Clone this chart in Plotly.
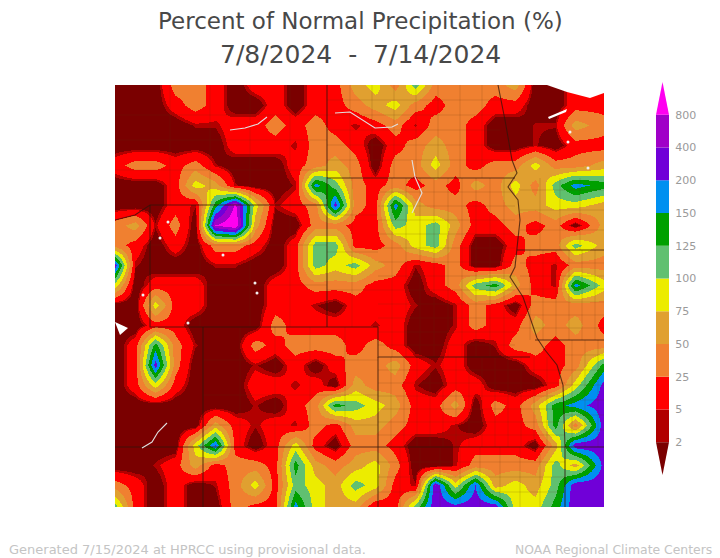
import numpy as np
import plotly.graph_objects as go

# percent of normal, one row per y position
grid_x = [115,135,155,175,195,215,235,255,275,295,315,335,355,375,395,415,435,455,475,495,515,535,555,575,604]
grid_y = [85,105,125,145,165,185,205,225,245,265,285,305,325,345,365,385,405,425,445,465,485,507]
row_085 = [1,1,1,37,37,15,1,15,15,1,15,15,62,87,37,112,37,37,37,37,62,1,1,15,15]
row_105 = [1,1,1,15,37,15,1,1,15,1,15,15,37,62,87,37,15,37,37,15,15,1,1,15,15]
row_125 = [1,1,1,1,3,3,15,15,37,15,37,15,3,15,37,3,37,37,15,1,1,3,3,62,37]
row_145 = [1,1,1,1,1,1,15,15,15,3,37,37,15,1,15,37,62,37,15,1,1,3,1,15,15]
row_165 = [15,37,37,15,37,3,1,1,1,15,37,62,37,1,37,37,87,37,15,37,37,87,37,37,62]
row_185 = [1,1,1,15,87,62,3,1,1,3,175,112,37,15,37,15,37,15,62,37,87,37,112,175,137]
row_205 = [1,1,1,15,3,137,1000,87,3,15,37,300,37,15,175,62,37,37,15,37,62,62,87,87,62]
row_225 = [37,62,3,37,1,800,1600,62,1,1,37,37,15,15,112,87,112,62,15,15,37,15,37,1,62]
row_245 = [37,15,1,15,1,37,37,15,1,15,112,112,15,15,37,87,112,37,1,1,15,37,37,112,62]
row_265 = [300,3,1,1,1,3,3,1,1,15,112,87,112,62,37,3,15,37,1,1,37,15,3,37,37]
row_285 = [87,1,15,15,15,1,1,1,15,15,37,37,37,15,15,1,15,37,112,137,62,15,3,175,87]
row_305 = [1,1,87,15,15,1,1,1,15,15,3,1,15,15,15,3,1,3,37,15,1,37,37,37,37]
row_325 = [1,1,15,15,1,1,1,1,37,15,15,15,15,3,15,1,1,3,37,15,15,62,37,62,15]
row_345 = [1,15,137,37,3,1,1,37,15,37,37,37,15,37,15,1,1,15,1,3,37,37,15,37,37]
row_365 = [1,15,300,37,1,1,1,3,1,15,1,15,37,37,62,15,3,15,1,1,1,15,15,37,137]
row_385 = [1,15,87,15,1,1,1,15,15,3,15,1,62,37,37,3,1,15,15,1,1,1,15,87,300]
row_405 = [1,1,1,1,1,1,1,3,1,15,37,137,112,87,62,15,15,62,1,37,15,62,137,175,350]
row_425 = [1,1,1,1,1,62,15,3,15,3,37,15,62,62,37,15,15,3,1,15,15,37,137,37,350]
row_445 = [1,1,1,1,87,200,15,1,15,87,15,1,37,37,15,1,1,3,15,15,15,1,62,350,350]
row_465 = [1,1,3,15,62,15,37,37,15,137,62,37,62,87,37,1,1,3,37,37,37,37,112,62,300]
row_485 = [37,15,1,15,1,3,37,87,15,112,87,62,112,87,15,3,400,87,200,62,87,62,112,350,350]
row_507 = [112,15,1,15,1,1,37,15,15,175,87,62,62,3,15,112,350,300,350,350,87,87,137,350,350]

levels = [0,2,5,25,50,75,100,125,150,200,400,800,1600]
# where each level sits on the colour scale, the 2-5 band is only a thin rim on the map
level_pos = [0,0.9,1.1,2,3,4,5,6,7,8,9,10,11]
band_colors = ["#7a0000","#b20000","#ff0000","#f08030","#e0a030","#ecec00","#60c070",
               "#00a000","#0090f0","#7000d8","#a000c8","#ff00f0"]
tick_vals = [1,2,3,4,5,6,7,8,9,10,11]
tick_text = ["2","5","25","50","75","100","125","150","200","400","800"]

rows = [row_085,row_105,row_125,row_145,row_165,row_185,row_205,row_225,row_245,row_265,row_285,
        row_305,row_325,row_345,row_365,row_385,row_405,row_425,row_445,row_465,row_485,row_507]
z = np.interp(np.array(rows), levels, level_pos)

scale = []
for i, c in enumerate(band_colors):
    scale.append([level_pos[i]/11, c])
    scale.append([level_pos[i+1]/11, c])

fig = go.Figure()
fig.add_trace(go.Heatmap(x=grid_x, y=grid_y, z=z, zmin=0, zmax=11, colorscale=scale, showscale=False,
                         zsmooth="best", hoverinfo="skip"))

# county grid, state by state: x range, y range, x lines, y lines
counties = [
    ([378,565],[357,447],[391,404,417,430,443,456,469,482,495,508,521,534,547],[370,383,396,409,422,435]),
    ([378,515],[178,357],[392,406,420,434,448,462,476,490,504],[192,206,220,234,248,262,276,290,304,318,332,345]),
    ([327,500],[85,178],[350,372,394,416,438,460,482],[100,115,130,145,160]),
    ([520,604],[250,340],[530,543,556,569,582,595],[263,276,289,302,315,328]),
    ([520,604],[178,250],[540,560,580],[190,210,230]),
    ([565,604],[340,447],[572,585,598],[355,370,385,400,415,430]),
    ([378,565],[447,507],[400,420,440,460,480,500,520,540],[462,477,492]),
    ([203,378],[327,447],[240,275,310,345],[360,395,425]),
    ([327,378],[178,327],[352],[215,252,290]),
    ([150,327],[205,327],[200,250,290],[245,285]),
    ([115,327],[85,205],[170,210,250,290],[115,140,170]),
]
cx, cy = [], []
for xr, yr, xs, ys in counties:
    for v in xs:
        cx += [v, v, None]
        cy += [yr[0], yr[1], None]
    for v in ys:
        cx += [xr[0], xr[1], None]
        cy += [v, v, None]
fig.add_trace(go.Scatter(x=cx, y=cy, mode="lines", line=dict(color="rgba(90,50,20,0.25)", width=0.7), hoverinfo="skip"))

# state lines
state_lines = [
    [[327,327],[85,327]],
    [[115,135,150,327],[220,215,205,205]],
    [[150,150,203,378,378,530],[205,327,327,327,357,357]],
    [[203,203],[327,507]],
    [[115,604],[447,447]],
    [[378,378],[357,507]],
    [[327,515],[178,178]],
    [[498,505,512,517,508,518,520,517,515,510,523,537,545,557,563,565,565],
     [85,120,160,173,187,200,220,250,267,277,297,338,350,365,385,447,507]],
    [[517,604],[250,250]],
    [[535,604],[340,340]],
]
for lx, ly in state_lines:
    fig.add_trace(go.Scatter(x=lx, y=ly, mode="lines", line=dict(color="rgba(50,20,10,0.75)", width=1.1), hoverinfo="skip"))

# lakes and rivers left blank
river_lines = [
    [[230,245,258,267],[130,128,124,117]],
    [[335,350,375,392,398],[113,112,128,127,124]],
    [[412,415,422,412],[160,177,193,213]],
    [[142,152,158,167],[448,442,432,423]],
]
for lx, ly in river_lines:
    fig.add_trace(go.Scatter(x=lx, y=ly, mode="lines", line=dict(color="#e0e0e0", width=1.1), hoverinfo="skip"))
lake_x = [[547,567,590,604,604,547],[548,567,566,549],[115,128,120,115]]
lake_y = [[85,92,98,93,85,85],[117,109,112,119],[322,328,335,322]]
for lx, ly in zip(lake_x, lake_y):
    fig.add_trace(go.Scatter(x=lx, y=ly, mode="lines", fill="toself", fillcolor="white",
                             line=dict(color="white", width=0), hoverinfo="skip"))
spot_x = [168,160,223,255,257,143,188,570,568,588]
spot_y = [222,238,255,283,293,295,323,132,142,168]
fig.add_trace(go.Scatter(x=spot_x, y=spot_y, mode="markers", marker=dict(color="#f0f0f0", size=3), hoverinfo="skip"))

# colour key on its own axes
fig.add_trace(go.Bar(x=[0.5]*10, y=[1]*10, base=tick_vals[:10], width=1, marker=dict(color=band_colors[1:11], line=dict(width=0)),
                     xaxis="x2", yaxis="y2", hoverinfo="skip"))
fig.add_trace(go.Scatter(x=[0,1,0.5,0], y=[1,1,0,1], mode="lines", fill="toself", fillcolor=band_colors[0],
                         line=dict(width=0), xaxis="x2", yaxis="y2", hoverinfo="skip"))
fig.add_trace(go.Scatter(x=[0,1,0.5,0], y=[11,11,12,11], mode="lines", fill="toself", fillcolor=band_colors[11],
                         line=dict(width=0), xaxis="x2", yaxis="y2", hoverinfo="skip"))

fig.update_layout(
    width=720, height=558, margin=dict(l=0, r=0, t=0, b=0), showlegend=False,
    paper_bgcolor="white", plot_bgcolor="white", font=dict(family="DejaVu Sans"),
    xaxis=dict(domain=[115/720, 604/720], range=[115,604], visible=False),
    yaxis=dict(domain=[51/558, 473/558], range=[507,85], visible=False),
    xaxis2=dict(domain=[656/720, 669/720], range=[0,1], visible=False, anchor="y2"),
    yaxis2=dict(domain=[83/558, 476/558], range=[0,12], anchor="x2", side="right", tickvals=tick_vals, ticktext=tick_text,
                showgrid=False, zeroline=False, showline=False, ticks="outside", ticklen=3, tickcolor="white",
                tickfont=dict(size=11, color="#9a9a9a")),
    annotations=[
        dict(text="Percent of Normal Precipitation (%)", x=0.5, y=1-21/558, xref="paper", yref="paper", yanchor="middle", showarrow=False, font=dict(size=23, color="#484848")),
        dict(text="7/8/2024\u00a0\u00a0-\u00a0\u00a07/14/2024", x=0.5, y=1-54/558, xref="paper", yref="paper", yanchor="middle", showarrow=False, font=dict(size=25, color="#484848")),
        dict(text="Generated 7/15/2024 at HPRCC using provisional data.", x=7/720, y=1-549/558, xref="paper", yref="paper", xanchor="left", yanchor="middle", showarrow=False, font=dict(size=13, color="#c4c4c4")),
        dict(text="NOAA Regional Climate Centers", x=714/720, y=1-549/558, xref="paper", yref="paper", xanchor="right", yanchor="middle", showarrow=False, font=dict(size=12.4, color="#c4c4c4")),
    ],
)

fig.write_html("out.html", post_script="document.body.style.margin='0';", config={"displayModeBar": False})
